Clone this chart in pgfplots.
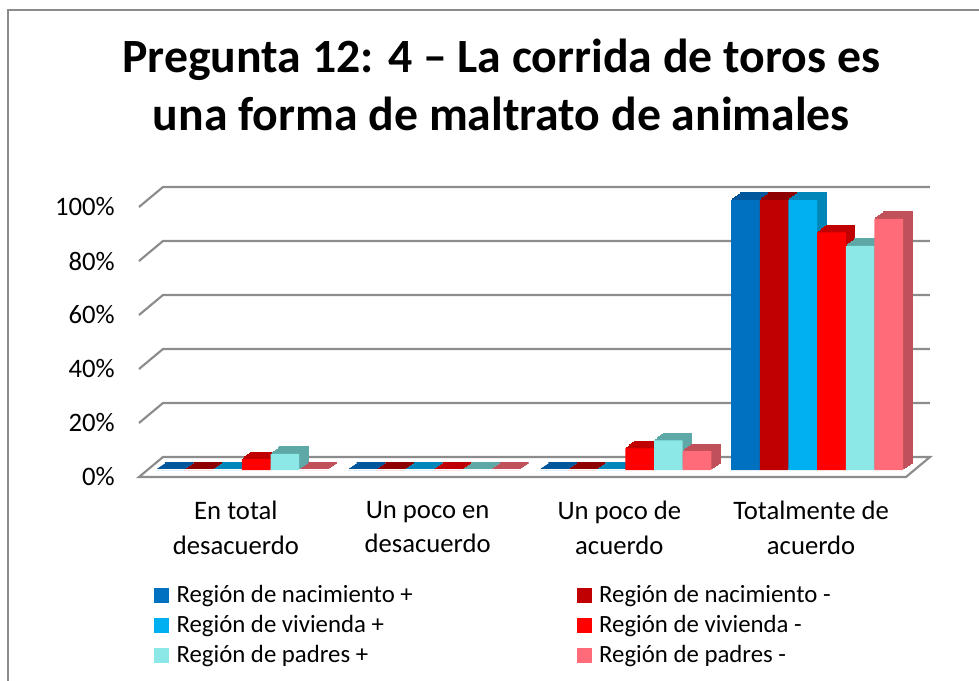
\documentclass[border=0pt]{standalone}
\usepackage{pgfplots}
\pgfplotsset{compat=1.18}
\usepackage{pgfplotstable}
\usepackage{fontspec}
\setmainfont{Carlito}

\definecolor{nacp}{HTML}{0070C0}\definecolor{nacpd}{HTML}{00569A}
\definecolor{nacm}{HTML}{C00000}\definecolor{nacmd}{HTML}{8E0000}
\definecolor{vivp}{HTML}{00B0F0}\definecolor{vivpd}{HTML}{0086B8}
\definecolor{vivm}{HTML}{FF0000}\definecolor{vivmd}{HTML}{C00000}
\definecolor{padp}{HTML}{8CE7E7}\definecolor{padpd}{HTML}{5FA8A8}
\definecolor{padm}{HTML}{FF6B78}\definecolor{padmd}{HTML}{C0505A}
\definecolor{gridc}{HTML}{8C8C8C}

% x: 0 En total desacuerdo, 1 Un poco en desacuerdo, 2 Un poco de acuerdo, 3 Totalmente de acuerdo
\pgfplotstableread{
x nacp nacm vivp vivm padp padm
0 0    0    0    4    6    0
1 0    0    0    0    0    0
2 0    0    0    8    11   7
3 100  100  100  88   83   93
}\datatable

% one series: a darker copy swept back for the depth, then the front face
\newcommand{\barseries}[5]{%
  \pgfplotsinvokeforeach{1,2,3,4,5,6}{%
    \addplot[ybar, bar width=21.5pt, bar shift=#4, fill=#3, draw=#3,
      line width=0.8pt, forget plot, xshift=##1*1.125pt, yshift=##1*0.875pt]
      table[x=x, y=#1]{\datatable};}
  \addplot[ybar, bar width=21.5pt, bar shift=#4, fill=#2, draw=none]
    table[x=x, y=#1]{\datatable};
  \addlegendentry{#5}}

\begin{document}
\begin{tikzpicture}
\useasboundingbox (0,0) rectangle (734.25pt,-510.75pt);
\begin{scope}
\clip (0,0) rectangle (734.25pt,-510.75pt);
\draw[gridc, line width=1.6pt] (6pt,-540pt) -- (6pt,-7.5pt) -- (760pt,-7.5pt);
\end{scope}

\node[anchor=base, font=\bfseries\fontsize{35.8}{42}\selectfont]
  at (376pt,-54.75pt) {Pregunta 12: 4 – La corrida de toros es};
\node[anchor=base, font=\bfseries\fontsize{35.8}{42}\selectfont]
  at (376pt,-98.25pt) {una forma de maltrato de animales};

\begin{axis}[
    at={(105pt,-352.5pt)}, anchor=south west,
    scale only axis, width=575.25pt, height=202.5pt,
    xmin=-0.5, xmax=3.5, ymin=0, ymax=100,
    clip=false,
    axis line style={draw=none},
    major tick length=0pt,
    xtick={0,1,2,3},
    xticklabels={{En total\\desacuerdo},{Un poco en\\desacuerdo},{Un poco de\\acuerdo},{Totalmente de\\acuerdo}},
    xticklabel style={anchor=north, inner sep=0pt, yshift=-23pt, align=center,
      font=\fontsize{20}{26}\selectfont},
    ytick={0,20,40,60,80,100},
    yticklabels={0\%,20\%,40\%,60\%,80\%,100\%},
    yticklabel style={anchor=east, inner sep=0pt, xshift=-18.75pt, yshift=-5.25pt,
      font=\fontsize{20}{24}\selectfont},
    legend columns=2,
    legend cell align=left,
    legend image code/.code={\fill[#1] (0pt,-2.2pt) rectangle (11.25pt,9.05pt);},
    legend style={draw=none, fill=none, at={(0.013,-0.415)}, anchor=north west,
      font=\fontsize{18.6}{22}\selectfont,
      nodes={inner xsep=3pt, inner ysep=0pt, text height=13.5pt, text depth=9pt},
      /tikz/every odd column/.append style={column sep=2.5pt},
      /tikz/every even column/.append style={column sep=120pt}},
]
% back wall grid lines with their slant to the front
\pgfplotsinvokeforeach{20,40,60,80,100}{
  \draw[gridc, line width=1.6pt]
    ([xshift=-0.75pt,yshift=-5.25pt]axis cs:-0.5,#1) --
    ([xshift=17.25pt,yshift=9.75pt]axis cs:-0.5,#1) --
    ([xshift=17.25pt,yshift=9.75pt]axis cs:3.5,#1);
}
% floor
\draw[gridc, line width=1.6pt, fill=white, line join=miter]
  ([xshift=-0.75pt,yshift=-5.25pt]axis cs:-0.5,0) --
  ([xshift=-0.75pt,yshift=-5.25pt]axis cs:3.5,0) --
  ([xshift=17.25pt,yshift=9.75pt]axis cs:3.5,0) --
  ([xshift=17.25pt,yshift=9.75pt]axis cs:-0.5,0) -- cycle;

\barseries{nacp}{nacp}{nacpd}{-49.25pt}{Región de nacimiento +}
\barseries{nacm}{nacm}{nacmd}{-27.75pt}{Región de nacimiento -}
\barseries{vivp}{vivp}{vivpd}{-6.25pt}{Región de vivienda +}
\barseries{vivm}{vivm}{vivmd}{15.25pt}{Región de vivienda -}
\barseries{padp}{padp}{padpd}{36.75pt}{Región de padres +}
\barseries{padm}{padm}{padmd}{58.25pt}{Región de padres -}
\end{axis}
\end{tikzpicture}
\end{document}
